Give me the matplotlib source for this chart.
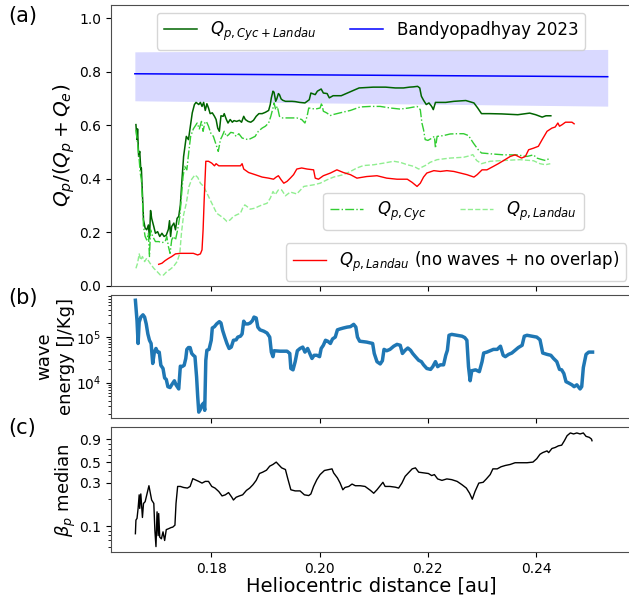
import numpy as np
import matplotlib
matplotlib.use("Agg")
import matplotlib.pyplot as plt
from matplotlib.ticker import FixedLocator, FixedFormatter, NullFormatter

# ---- panel (a): Q_p / (Q_p + Q_e) ----
r_tot = [0.1661, 0.1663, 0.1664, 0.1666, 0.1668, 0.1670, 0.1671, 0.1673, 0.1675, 0.1678,
         0.1681, 0.1684, 0.1686, 0.1688, 0.1690, 0.1694, 0.1697, 0.1701, 0.1705, 0.1709,
         0.1713, 0.1717, 0.1721, 0.1723, 0.1725, 0.1727, 0.1731, 0.1734, 0.1737, 0.1740,
         0.1743, 0.1746, 0.1749, 0.1752, 0.1754, 0.1758, 0.1761, 0.1765, 0.1769, 0.1772,
         0.1777, 0.1780, 0.1783, 0.1786, 0.1789, 0.1792, 0.1795, 0.1798, 0.1802, 0.1806,
         0.1809, 0.1812, 0.1815, 0.1818, 0.1822, 0.1824, 0.1828, 0.1831, 0.1835, 0.1839,
         0.1842, 0.1847, 0.1852, 0.1856, 0.1860, 0.1863, 0.1868, 0.1873, 0.1878, 0.1883,
         0.1888, 0.1894, 0.1900, 0.1906, 0.1909, 0.1911, 0.1914, 0.1916, 0.1919, 0.1921,
         0.1924, 0.1926, 0.1929, 0.1932, 0.1937, 0.1943, 0.1949, 0.1955, 0.1963, 0.1973,
         0.1981, 0.1984, 0.1992, 0.1996, 0.2003, 0.2007, 0.2014, 0.2018, 0.2025, 0.2040,
         0.2055, 0.2073, 0.2099, 0.2122, 0.2140, 0.2155, 0.2166, 0.2173, 0.2181, 0.2185,
         0.2188, 0.2192, 0.2197, 0.2202, 0.2207, 0.2210, 0.2214, 0.2222, 0.2233, 0.2248,
         0.2270, 0.2285, 0.2292, 0.2299, 0.2314, 0.2336, 0.2366, 0.2388, 0.2399, 0.2411,
         0.2418, 0.2427]
q_tot = [0.602, 0.546, 0.586, 0.483, 0.502, 0.433, 0.440, 0.346, 0.246, 0.215,
         0.209, 0.227, 0.177, 0.281, 0.252, 0.221, 0.196, 0.202, 0.184, 0.196,
         0.184, 0.189, 0.211, 0.243, 0.184, 0.221, 0.234, 0.209, 0.252, 0.259,
         0.302, 0.396, 0.483, 0.527, 0.558, 0.546, 0.589, 0.646, 0.677, 0.685,
         0.677, 0.685, 0.670, 0.685, 0.655, 0.680, 0.664, 0.643, 0.646, 0.633,
         0.621, 0.589, 0.577, 0.635, 0.633, 0.643, 0.621, 0.608, 0.621, 0.611,
         0.617, 0.614, 0.618, 0.611, 0.633, 0.621, 0.614, 0.611, 0.618, 0.633,
         0.643, 0.643, 0.648, 0.655, 0.677, 0.702, 0.727, 0.723, 0.689, 0.698,
         0.718, 0.714, 0.698, 0.693, 0.689, 0.689, 0.689, 0.688, 0.685, 0.683,
         0.695, 0.720, 0.714, 0.727, 0.735, 0.720, 0.718, 0.702, 0.710, 0.710,
         0.723, 0.739, 0.742, 0.742, 0.739, 0.739, 0.742, 0.743, 0.745, 0.739,
         0.708, 0.693, 0.677, 0.683, 0.670, 0.658, 0.685, 0.685, 0.685, 0.689,
         0.692, 0.683, 0.664, 0.643, 0.643, 0.642, 0.639, 0.645, 0.639, 0.630,
         0.635, 0.635]

r_cyc = [0.1661, 0.1664, 0.1667, 0.1669, 0.1671, 0.1673, 0.1675, 0.1678, 0.1681, 0.1684,
         0.1686, 0.1688, 0.1692, 0.1697, 0.1703, 0.1709, 0.1715, 0.1718, 0.1721, 0.1724,
         0.1727, 0.1730, 0.1734, 0.1738, 0.1742, 0.1745, 0.1748, 0.1751, 0.1755, 0.1759,
         0.1762, 0.1767, 0.1774, 0.1778, 0.1782, 0.1785, 0.1788, 0.1791, 0.1795, 0.1799,
         0.1804, 0.1809, 0.1813, 0.1817, 0.1820, 0.1824, 0.1828, 0.1832, 0.1836, 0.1841,
         0.1846, 0.1851, 0.1857, 0.1863, 0.1869, 0.1875, 0.1881, 0.1887, 0.1894, 0.1900,
         0.1906, 0.1910, 0.1914, 0.1916, 0.1919, 0.1922, 0.1926, 0.1930, 0.1937, 0.1946,
         0.1958, 0.1967, 0.1973, 0.1977, 0.1980, 0.1992, 0.2001, 0.2004, 0.2007, 0.2013,
         0.2020, 0.2026, 0.2038, 0.2057, 0.2075, 0.2094, 0.2112, 0.2131, 0.2149, 0.2164,
         0.2180, 0.2186, 0.2189, 0.2192, 0.2195, 0.2200, 0.2208, 0.2212, 0.2214, 0.2217,
         0.2229, 0.2241, 0.2254, 0.2266, 0.2275, 0.2284, 0.2293, 0.2299, 0.2315, 0.2340,
         0.2364, 0.2383, 0.2395, 0.2401, 0.2411, 0.2417, 0.2426]
q_cyc = [0.583, 0.533, 0.471, 0.421, 0.396, 0.321, 0.221, 0.184, 0.171, 0.196,
         0.109, 0.209, 0.184, 0.165, 0.165, 0.161, 0.165, 0.184, 0.146, 0.121,
         0.171, 0.184, 0.171, 0.209, 0.259, 0.333, 0.408, 0.446, 0.433, 0.508,
         0.558, 0.586, 0.608, 0.586, 0.614, 0.577, 0.608, 0.614, 0.596, 0.571,
         0.558, 0.527, 0.502, 0.546, 0.558, 0.577, 0.558, 0.564, 0.573, 0.571,
         0.558, 0.568, 0.552, 0.548, 0.546, 0.552, 0.558, 0.577, 0.589, 0.596,
         0.608, 0.633, 0.664, 0.683, 0.658, 0.670, 0.633, 0.627, 0.627, 0.627,
         0.627, 0.621, 0.608, 0.633, 0.664, 0.660, 0.664, 0.683, 0.652, 0.646,
         0.636, 0.640, 0.646, 0.655, 0.668, 0.670, 0.670, 0.664, 0.660, 0.664,
         0.670, 0.658, 0.608, 0.583, 0.546, 0.543, 0.552, 0.558, 0.514, 0.558,
         0.561, 0.567, 0.568, 0.568, 0.561, 0.533, 0.508, 0.496, 0.493, 0.489,
         0.489, 0.483, 0.489, 0.477, 0.471, 0.468, 0.477]

r_lan = [0.1661, 0.1664, 0.1667, 0.1670, 0.1673, 0.1677, 0.1681, 0.1687, 0.1694, 0.1700,
         0.1706, 0.1712, 0.1718, 0.1724, 0.1730, 0.1737, 0.1742, 0.1745, 0.1749, 0.1754,
         0.1759, 0.1764, 0.1770, 0.1775, 0.1780, 0.1786, 0.1792, 0.1798, 0.1804, 0.1810,
         0.1817, 0.1823, 0.1829, 0.1835, 0.1841, 0.1847, 0.1854, 0.1858, 0.1862, 0.1866,
         0.1872, 0.1881, 0.1887, 0.1894, 0.1903, 0.1909, 0.1914, 0.1918, 0.1924, 0.1930,
         0.1937, 0.1946, 0.1958, 0.1971, 0.1989, 0.2001, 0.2014, 0.2026, 0.2044, 0.2057,
         0.2069, 0.2081, 0.2100, 0.2118, 0.2137, 0.2149, 0.2162, 0.2174, 0.2183, 0.2189,
         0.2198, 0.2204, 0.2217, 0.2241, 0.2266, 0.2278, 0.2283, 0.2290, 0.2299, 0.2315,
         0.2340, 0.2370, 0.2395, 0.2407, 0.2417, 0.2426]
q_lan = [0.065, 0.084, 0.119, 0.096, 0.109, 0.090, 0.103, 0.084, 0.065, 0.053,
         0.040, 0.040, 0.053, 0.061, 0.071, 0.090, 0.121, 0.196, 0.265, 0.308,
         0.371, 0.398, 0.414, 0.405, 0.383, 0.371, 0.346, 0.321, 0.296, 0.271,
         0.261, 0.252, 0.240, 0.246, 0.259, 0.265, 0.271, 0.290, 0.302, 0.296,
         0.286, 0.290, 0.296, 0.302, 0.308, 0.327, 0.352, 0.340, 0.358, 0.358,
         0.336, 0.350, 0.343, 0.371, 0.377, 0.383, 0.396, 0.406, 0.415, 0.427,
         0.440, 0.449, 0.452, 0.458, 0.465, 0.461, 0.452, 0.446, 0.436, 0.443,
         0.452, 0.461, 0.471, 0.477, 0.480, 0.486, 0.490, 0.468, 0.456, 0.465,
         0.468, 0.471, 0.467, 0.456, 0.452, 0.456]

r_nowave = [0.1703, 0.1709, 0.1715, 0.1721, 0.1727, 0.1734, 0.1743, 0.1755, 0.1767, 0.1775,
            0.1780, 0.1783, 0.1785, 0.1787, 0.1790, 0.1795, 0.1801, 0.1806, 0.1809, 0.1814,
            0.1823, 0.1841, 0.1854, 0.1857, 0.1860, 0.1869, 0.1881, 0.1894, 0.1906, 0.1915,
            0.1920, 0.1924, 0.1929, 0.1934, 0.1940, 0.1946, 0.1952, 0.1958, 0.1967, 0.1977,
            0.1989, 0.1992, 0.1998, 0.2007, 0.2020, 0.2032, 0.2044, 0.2057, 0.2069, 0.2087,
            0.2106, 0.2124, 0.2143, 0.2162, 0.2171, 0.2180, 0.2186, 0.2192, 0.2198, 0.2211,
            0.2223, 0.2235, 0.2248, 0.2260, 0.2272, 0.2285, 0.2291, 0.2300, 0.2309, 0.2321,
            0.2330, 0.2340, 0.2352, 0.2361, 0.2373, 0.2380, 0.2386, 0.2395, 0.2404, 0.2411,
            0.2420, 0.2429, 0.2435, 0.2440, 0.2443, 0.2448, 0.2454, 0.2460, 0.2466, 0.2470]
q_nowave = [0.080, 0.084, 0.094, 0.102, 0.109, 0.119, 0.121, 0.121, 0.121, 0.115,
            0.119, 0.134, 0.209, 0.321, 0.465, 0.465, 0.458, 0.448, 0.456, 0.448,
            0.448, 0.448, 0.448, 0.456, 0.436, 0.423, 0.415, 0.406, 0.402, 0.398,
            0.406, 0.411, 0.396, 0.383, 0.390, 0.402, 0.415, 0.436, 0.440, 0.436,
            0.433, 0.402, 0.398, 0.411, 0.421, 0.433, 0.423, 0.415, 0.402, 0.408,
            0.411, 0.402, 0.398, 0.398, 0.386, 0.371, 0.383, 0.406, 0.421, 0.430,
            0.427, 0.430, 0.427, 0.421, 0.415, 0.406, 0.415, 0.433, 0.433, 0.446,
            0.456, 0.468, 0.483, 0.489, 0.477, 0.483, 0.508, 0.514, 0.521, 0.546,
            0.577, 0.589, 0.593, 0.608, 0.596, 0.602, 0.611, 0.611, 0.611, 0.605]

# Bandyopadhyay 2023 reference with its band
r_ref = [0.1659, 0.2532]
q_ref = [0.792, 0.781]
q_ref_lo = [0.691, 0.671]
q_ref_hi = [0.874, 0.883]

# ---- panel (b): wave energy, log10 [J/kg] ----
r_wave = [0.1660, 0.1663, 0.1665, 0.1667, 0.1670, 0.1674, 0.1677, 0.1680, 0.1683, 0.1686,
          0.1689, 0.1692, 0.1695, 0.1698, 0.1701, 0.1704, 0.1707, 0.1711, 0.1714, 0.1717,
          0.1720, 0.1724, 0.1727, 0.1732, 0.1735, 0.1740, 0.1743, 0.1746, 0.1750, 0.1753,
          0.1755, 0.1758, 0.1761, 0.1764, 0.1767, 0.1770, 0.1773, 0.1775, 0.1777, 0.1780,
          0.1783, 0.1786, 0.1788, 0.1790, 0.1792, 0.1796, 0.1800, 0.1802, 0.1806, 0.1810,
          0.1815, 0.1818, 0.1821, 0.1825, 0.1829, 0.1833, 0.1837, 0.1841, 0.1846, 0.1849,
          0.1854, 0.1857, 0.1860, 0.1863, 0.1868, 0.1872, 0.1876, 0.1879, 0.1883, 0.1886,
          0.1890, 0.1897, 0.1903, 0.1908, 0.1911, 0.1914, 0.1916, 0.1927, 0.1940, 0.1945,
          0.1947, 0.1951, 0.1955, 0.1959, 0.1964, 0.1969, 0.1973, 0.1978, 0.1982, 0.1986,
          0.1990, 0.1995, 0.2000, 0.2003, 0.2007, 0.2011, 0.2015, 0.2020, 0.2024, 0.2029,
          0.2033, 0.2038, 0.2044, 0.2051, 0.2057, 0.2063, 0.2067, 0.2070, 0.2074, 0.2087,
          0.2098, 0.2101, 0.2106, 0.2112, 0.2116, 0.2119, 0.2124, 0.2130, 0.2137, 0.2143,
          0.2149, 0.2153, 0.2158, 0.2163, 0.2168, 0.2172, 0.2177, 0.2183, 0.2188, 0.2192,
          0.2198, 0.2205, 0.2209, 0.2214, 0.2218, 0.2223, 0.2229, 0.2233, 0.2236, 0.2239,
          0.2244, 0.2254, 0.2263, 0.2268, 0.2272, 0.2275, 0.2278, 0.2281, 0.2288, 0.2295,
          0.2300, 0.2303, 0.2309, 0.2315, 0.2321, 0.2328, 0.2334, 0.2339, 0.2343, 0.2349,
          0.2355, 0.2361, 0.2367, 0.2374, 0.2378, 0.2383, 0.2392, 0.2401, 0.2407, 0.2412,
          0.2420, 0.2427, 0.2432, 0.2438, 0.2443, 0.2447, 0.2451, 0.2455, 0.2460, 0.2466,
          0.2470, 0.2475, 0.2481, 0.2484, 0.2487, 0.2492, 0.2497, 0.2504]
log_wave = [5.81, 5.36, 4.86, 5.33, 5.44, 5.49, 5.44, 5.29, 5.07, 4.93,
            4.86, 4.42, 4.67, 4.75, 4.67, 4.67, 4.38, 4.31, 4.10, 4.07,
            3.91, 3.89, 3.95, 4.04, 3.95, 3.86, 4.36, 4.35, 4.38, 4.53,
            4.73, 4.77, 4.77, 4.64, 4.60, 4.57, 4.12, 3.70, 3.35, 3.41,
            3.51, 3.55, 3.39, 4.49, 4.71, 4.73, 4.93, 5.20, 5.23, 5.29,
            5.34, 5.31, 5.15, 5.00, 4.86, 4.75, 4.78, 4.93, 4.94, 5.00,
            5.02, 5.07, 5.35, 5.29, 5.29, 5.31, 5.36, 5.44, 5.42, 5.22,
            5.16, 5.13, 5.09, 5.00, 4.67, 4.57, 4.70, 4.69, 4.69, 4.64,
            4.31, 4.28, 4.46, 4.70, 4.75, 4.78, 4.67, 4.75, 4.64, 4.53,
            4.60, 4.60, 4.57, 4.75, 4.82, 4.93, 4.91, 4.86, 4.96, 5.00,
            5.16, 5.18, 5.20, 5.22, 5.23, 5.28, 5.22, 5.00, 4.91, 4.89,
            4.86, 4.64, 4.46, 4.41, 4.48, 4.73, 4.70, 4.73, 4.80, 4.84,
            4.82, 4.64, 4.71, 4.76, 4.71, 4.64, 4.57, 4.49, 4.46, 4.39,
            4.31, 4.29, 4.35, 4.46, 4.35, 4.39, 4.39, 4.60, 4.71, 5.04,
            5.06, 5.04, 5.02, 4.99, 4.93, 4.35, 4.04, 4.26, 4.28, 4.24,
            4.46, 4.65, 4.67, 4.70, 4.73, 4.73, 4.80, 4.60, 4.57, 4.62,
            4.65, 4.71, 4.77, 4.82, 5.02, 5.04, 5.02, 5.00, 4.94, 4.65,
            4.62, 4.60, 4.53, 4.46, 4.29, 4.28, 4.20, 4.02, 3.99, 3.95,
            3.91, 3.95, 3.86, 3.91, 4.33, 4.62, 4.67, 4.67]

# ---- panel (c): median proton beta ----
r_beta = [0.1660, 0.1661, 0.1663, 0.1665, 0.1667, 0.1668, 0.1670, 0.1672, 0.1673, 0.1675,
          0.1678, 0.1681, 0.1685, 0.1687, 0.1690, 0.1694, 0.1696, 0.1698, 0.1700, 0.1702,
          0.1703, 0.1705, 0.1708, 0.1711, 0.1714, 0.1717, 0.1721, 0.1726, 0.1729, 0.1733,
          0.1735, 0.1738, 0.1743, 0.1749, 0.1756, 0.1761, 0.1766, 0.1770, 0.1777, 0.1783,
          0.1789, 0.1795, 0.1801, 0.1807, 0.1814, 0.1820, 0.1826, 0.1832, 0.1838, 0.1841,
          0.1846, 0.1852, 0.1858, 0.1865, 0.1871, 0.1877, 0.1883, 0.1889, 0.1895, 0.1902,
          0.1908, 0.1914, 0.1920, 0.1924, 0.1930, 0.1937, 0.1941, 0.1947, 0.1955, 0.1964,
          0.1972, 0.1980, 0.1984, 0.1989, 0.1995, 0.2001, 0.2009, 0.2017, 0.2023, 0.2026,
          0.2033, 0.2038, 0.2043, 0.2047, 0.2054, 0.2060, 0.2066, 0.2075, 0.2084, 0.2094,
          0.2100, 0.2106, 0.2112, 0.2117, 0.2121, 0.2130, 0.2140, 0.2146, 0.2152, 0.2158,
          0.2164, 0.2171, 0.2177, 0.2183, 0.2192, 0.2201, 0.2207, 0.2212, 0.2218, 0.2226,
          0.2235, 0.2244, 0.2254, 0.2263, 0.2271, 0.2277, 0.2282, 0.2287, 0.2294, 0.2302,
          0.2308, 0.2315, 0.2320, 0.2328, 0.2335, 0.2343, 0.2352, 0.2361, 0.2370, 0.2383,
          0.2394, 0.2401, 0.2407, 0.2412, 0.2420, 0.2423, 0.2429, 0.2435, 0.2441, 0.2447,
          0.2452, 0.2457, 0.2463, 0.2469, 0.2475, 0.2481, 0.2487, 0.2492, 0.2498, 0.2502,
          0.2503]
beta = [0.083, 0.117, 0.122, 0.157, 0.221, 0.157, 0.226, 0.150, 0.125, 0.178,
        0.186, 0.221, 0.278, 0.240, 0.194, 0.178, 0.090, 0.060, 0.144, 0.079,
        0.138, 0.076, 0.073, 0.087, 0.070, 0.092, 0.094, 0.097, 0.098, 0.103,
        0.178, 0.273, 0.273, 0.266, 0.262, 0.273, 0.332, 0.324, 0.310, 0.297,
        0.310, 0.310, 0.273, 0.262, 0.240, 0.215, 0.221, 0.234, 0.208, 0.194,
        0.208, 0.215, 0.221, 0.247, 0.262, 0.285, 0.318, 0.378, 0.391, 0.411,
        0.455, 0.475, 0.504, 0.475, 0.436, 0.418, 0.338, 0.251, 0.244, 0.244,
        0.221, 0.217, 0.226, 0.273, 0.324, 0.368, 0.408, 0.418, 0.425, 0.384,
        0.338, 0.297, 0.251, 0.266, 0.273, 0.290, 0.278, 0.278, 0.273, 0.247,
        0.230, 0.251, 0.278, 0.303, 0.273, 0.273, 0.268, 0.262, 0.297, 0.352,
        0.384, 0.425, 0.436, 0.391, 0.384, 0.378, 0.359, 0.368, 0.330, 0.318,
        0.330, 0.324, 0.310, 0.285, 0.262, 0.230, 0.198, 0.240, 0.297, 0.303,
        0.330, 0.368, 0.425, 0.425, 0.448, 0.463, 0.475, 0.496, 0.496, 0.496,
        0.504, 0.549, 0.614, 0.640, 0.668, 0.640, 0.710, 0.728, 0.759, 0.772,
        0.863, 0.980, 1.050, 1.024, 1.050, 1.024, 1.050, 0.964, 0.940, 0.900,
        0.863]

plt.rcParams["axes.edgecolor"] = "0.3"

fig = plt.figure(figsize=(6.29, 5.97), dpi=100)
W = 631 / 629 - 0.1765
ax1 = fig.add_axes([0.1765, 0.5214, W, 0.4707])
ax2 = fig.add_axes([0.1765, 0.3003, W, 0.2061], sharex=ax1)
ax3 = fig.add_axes([0.1765, 0.0749, W, 0.2094], sharex=ax1)

# panel a
l_tot, = ax1.plot(r_tot, q_tot, color="darkgreen", lw=1.1, label=r"$Q_{p, Cyc + Landau}$")
l_ref, = ax1.plot(r_ref, q_ref, color="blue", lw=1.1, label="Bandyopadhyay 2023")
ax1.fill_between(r_ref, q_ref_lo, q_ref_hi, color="blue", alpha=0.15, lw=0)
l_cyc, = ax1.plot(r_cyc, q_cyc, color="limegreen", ls="-.", lw=1.0, label=r"$Q_{p, Cyc}$")
l_lan, = ax1.plot(r_lan, q_lan, color="lightgreen", ls="--", lw=1.0, label=r"$Q_{p, Landau}$")
l_now, = ax1.plot(r_nowave, q_nowave, color="red", lw=1.0,
                  label=r"$Q_{p, Landau}$ (no waves + no overlap)")
ax1.set_ylim(0, 1.05)
ax1.set_yticks([0.0, 0.2, 0.4, 0.6, 0.8, 1.0])
ax1.set_ylabel(r"$Q_p/(Q_p+Q_e)$", fontsize=14.5, labelpad=2)
leg1 = ax1.legend(handles=[l_tot, l_ref], loc="upper center", ncol=2, fontsize=12)
ax1.add_artist(leg1)
leg2 = ax1.legend(handles=[l_cyc, l_lan], loc="lower right", ncol=2, fontsize=12,
                  bbox_to_anchor=(0.925, 0.17))
ax1.add_artist(leg2)
ax1.legend(handles=[l_now], loc="lower right", fontsize=12, borderaxespad=0.3)
ax1.tick_params(labelbottom=False)

# panel b
ax2.plot(r_wave, 10 ** np.array(log_wave), color="tab:blue", lw=2.5)
ax2.set_yscale("log")
ax2.set_ylabel("wave\nenergy [J/Kg]", fontsize=13, labelpad=1)
ax2.tick_params(labelbottom=False)

# panel c
ax3.plot(r_beta, beta, color="black", lw=1.0)
ax3.set_yscale("log")
ax3.yaxis.set_major_locator(FixedLocator([0.1, 0.3, 0.5, 0.9]))
ax3.yaxis.set_major_formatter(FixedFormatter(["0.1", "0.3", "0.5", "0.9"]))
ax3.yaxis.set_minor_formatter(NullFormatter())
ax3.set_ylabel(r"$\beta_p$ median", fontsize=13, labelpad=1)
ax3.set_xlabel("Heliocentric distance [au]", fontsize=14, labelpad=0)

ax1.set_xlim(0.1615, 0.2575)
ax1.set_xticks([0.18, 0.20, 0.22, 0.24])
for ax in (ax1, ax2, ax3):
    ax.tick_params(labelsize=10)

fig.text(0.013, 0.99, "(a)", fontsize=15, va="top")
fig.text(0.013, 0.517, "(b)", fontsize=15, va="top")
fig.text(0.013, 0.299, "(c)", fontsize=15, va="top")

fig.savefig("out.png", dpi=100)
